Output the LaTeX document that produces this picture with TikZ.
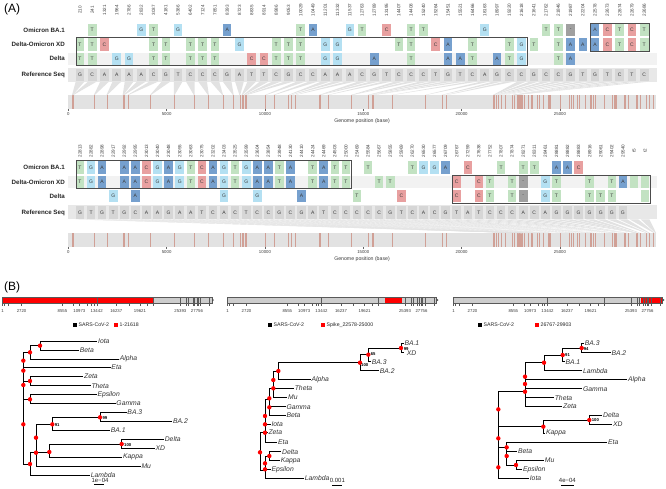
\documentclass[tikz,border=0pt]{standalone}
\usepackage{fontspec}
\setmainfont{Liberation Sans}
\setsansfont{Liberation Sans}
\definecolor{colT}{RGB}{194,226,194}
\definecolor{colG}{RGB}{180,224,242}
\definecolor{colA}{RGB}{118,160,206}
\definecolor{colC}{RGB}{232,160,160}
\definecolor{colD}{RGB}{160,160,160}
\definecolor{colE}{RGB}{194,226,194}
\definecolor{refband}{RGB}{232,232,232}
\definecolor{refcell}{RGB}{214,214,214}
\definecolor{rowband}{RGB}{242,242,242}
\definecolor{fan}{RGB}{226,226,226}
\definecolor{gbar}{RGB}{226,226,226}
\definecolor{mut}{RGB}{208,160,150}
\definecolor{txt}{RGB}{60,60,60}
\definecolor{schemgray}{RGB}{205,205,205}
\def\txtT{T}\def\txtG{G}\def\txtA{A}\def\txtC{C}\def\txtD{-}\def\txtE{}
\def\toppos{210,241,1321,1964,2786,2832,3037,4181,5386,6402,7124,7851,8393,8723,8835,8914,8986,9053,10029,10449,11201,11332,11537,12763,12789,13195,14407,14408,15240,15264,15451,15521,16466,18163,18997,19220,21618,21641,21762,21846,21987,22204,22578,22673,22674,22679,22686}
\def\botpos{22813/22813,22882/22882,22898/22898,22917/22917,22992/22992,22995/22995,23013/23013,23040/23040,23048/23048,23055/23055,23063/23063,23075/23075,23202/23202,23403/23403,23525/23525,23599/23599,23604/23604,23854/23854,23948/23948,24130/24130,24410/24410,24424/24424,24469/24469,24503/24503,25000/25000,25469/25469,25584/25584,25667/25667,25855/25855,25969/25969,26270/26270,26530/26530,26577/26577,26709/26709,26767/26767,27259/27259,27638/27638,27752/27752,27807/27807,27874/27874,28271/28271,28311/28311,28461/28461,28881/28881,28882/28882,28883/28883,28916/28916,29061/29061,29402/29402,29540/29540,t5/29800,t2/29870}
\def\allmut{210,241,1321,1964,2786,2832,3037,4181,5386,6402,7124,7851,8393,8723,8835,8914,8986,9053,10029,10449,11201,11332,11537,12763,12789,13195,14407,14408,15240,15264,15451,15521,16466,18163,18997,19220,21618,21641,21762,21846,21987,22204,22578,22673,22674,22679,22686,22813,22882,22898,22917,22992,22995,23013,23040,23048,23055,23063,23075,23202,23403,23525,23599,23604,23854,23948,24130,24410,24424,24469,24503,25000,25469,25584,25667,25855,25969,26270,26530,26577,26709,26767,27259,27638,27752,27807,27874,28271,28311,28461,28881,28882,28883,28916,29061,29402,29540,29742}
\tikzset{
 ntcell/.style={fill=col#1, minimum width=8.6pt, minimum height=12.4pt, inner sep=0pt, font=\fontsize{5}{5}\selectfont, text=txt},
 refcellst/.style={fill=refcell, minimum width=8.6pt, minimum height=12.4pt, inner sep=0pt, font=\fontsize{5}{5}\selectfont, text=txt},
 poslab/.style={rotate=90, font=\fontsize{4.6}{5}\selectfont, text=black!75, inner sep=0pt},
 rowlab/.style={anchor=east, font=\bfseries\fontsize{6.2}{7}\selectfont, text=black!85, inner sep=0pt},
 boxline/.style={draw=black!70, line width=0.7pt},
 mutline/.style={draw=mut, line width=0.35pt},
 ticklab/.style={font=\fontsize{4.3}{5}\selectfont, text=txt, inner sep=0pt},
 axtitle/.style={font=\fontsize{5.2}{6}\selectfont, text=txt, inner sep=0pt},
 legtext/.style={font=\fontsize{5.2}{6}\selectfont, text=black!85, inner sep=0pt, anchor=west},
 tree/.style={line width=1pt, line cap=rect},
 tiplab/.style={anchor=west, font=\itshape\fontsize{6.8}{7}\selectfont, text=black!80, inner sep=1.3pt},
 supp/.style={font=\bfseries\fontsize{4.2}{5}\selectfont, inner sep=0pt, anchor=west},
 scalelab/.style={font=\fontsize{6}{7}\selectfont, text=black!85, inner sep=0pt},
 panellab/.style={anchor=west, font=\fontsize{12}{13}\selectfont, inner sep=0pt},
}
\newcommand\genomeschem[4]{%
  \fill[schemgray] (#1,297) rectangle ({#1+#2},303);
  \fill[red] ({#1+#2*#3/29.903},297) rectangle ({#1+#2*#4/29.903},303);
  \foreach \kk in {13.442,21.563,25.393,26.245,26.523,27.202,27.394,27.756,27.894,28.274,29.533}
    {\draw[black!65,line width=0.35pt] ({#1+#2*\kk/29.903},297) -- ({#1+#2*\kk/29.903},303);}
  \draw[black!65,line width=0.5pt] (#1,297) rectangle ({#1+#2},303);
  \fill[black!70] ({#1+#2},298.5) -- ({#1+#2+2},300) -- ({#1+#2},301.5) -- cycle;
  \foreach \kk in {0.001,0.266,0.806,2.720,8.555,10.055,10.973,12.092,12.686,13.025,13.442,16.237,18.040,19.621,20.659,21.563,25.393,26.245,26.523,27.202,27.394,27.756,27.894,28.274,29.533}
    {\draw[black!65,line width=0.3pt] ({#1+#2*\kk/29.903},303) -- ({#1+#2*\kk/29.903},305.5);}
  \foreach \kk/\lbl in {0.001/1,2.720/2720,8.555/8555,10.973/10973,13.442/13442,16.237/16237,19.621/19621,25.393/25393,27.756/27756}
    {\node[ticklab] at ({#1+#2*\kk/29.903},311) {\lbl};}
}
\newcommand\schemlegend[3]{%
  \fill[black] (#1,323) rectangle ++(4,4);
  \node[legtext] at ({#1+5.5},325) {SARS-CoV-2};
  \fill[red] (#2,323) rectangle ++(4,4);
  \node[legtext] at ({#2+5.5},325) {#3};
}
\begin{document}
\begin{tikzpicture}[x=1pt,y=-1pt]
\useasboundingbox (0,0) rectangle (666,488);
\fill[white] (0,0) rectangle (666,488);

\node[panellab] (labA) at (4,9) {(A)};
\node[panellab] (labB) at (4,287) {(B)};

%% ================= Panel A, top block =================
\fill[rowband] (68,52.5) rectangle (656.5,65);
\fill[refband] (68,67.7) rectangle (656.5,81.7);
\fill[gbar] (68.3,95) rectangle (656.3,109.3);
\foreach \mm in \allmut {
  \edef\gxi{\the\numexpr\mm*19665/100000\relax}
  \pgfmathsetmacro\gx{68.3+\gxi/10}
  \draw[mutline] (\gx,95) -- (\gx,109.3);
}
\foreach \pp [count=\ci] in \toppos {
  \pgfmathsetmacro\cx{80+(\ci-1)*12.265}
  \edef\gxi{\the\numexpr\pp*19665/100000\relax}
  \pgfmathsetmacro\gx{68.3+\gxi/10}
  \fill[fan] (\cx-4.3,81.7) -- (\cx+4.3,81.7) -- (\gx+0.4,95) -- (\gx-0.4,95) -- cycle;
  \node[poslab] at (\cx,10) {\pp};
}
\foreach \lt [count=\ci] in {G,C,A,A,A,A,C,G,T,C,C,C,G,A,T,T,C,G,C,C,A,A,A,C,G,T,C,C,C,T,G,T,C,A,G,C,C,G,C,C,G,T,G,T,C,T,C}
  \node[refcellst] at ({80+(\ci-1)*12.265},74.7) {\lt};
\foreach \ci/\lt in {2/T,6/G,7/T,9/G,13/A,19/T,20/A,23/G,24/T,26/C,28/T,29/T,34/G,39/T,40/T,41/D,43/A,44/C,45/T,46/C,47/T}
  \node[ntcell=\lt] at ({80+(\ci-1)*12.265},30) {\csname txt\lt\endcsname};
\foreach \ci/\lt in {1/T,2/T,3/C,7/T,8/T,10/T,11/T,12/T,14/G,17/T,18/T,19/T,21/G,22/G,27/T,28/T,30/C,31/A,33/T,36/T,37/G,38/T,40/T,41/A,42/A,43/A,44/C,45/T,46/C,47/T}
  \node[ntcell=\lt] at ({80+(\ci-1)*12.265},44.4) {\csname txt\lt\endcsname};
\foreach \ci/\lt in {1/T,2/T,4/G,5/G,7/T,8/T,10/T,11/T,12/T,15/C,16/C,17/T,18/T,19/T,21/G,22/G,25/A,28/T,31/A,32/A,33/T,35/A,36/T,37/G,40/T,41/A}
  \node[ntcell=\lt] at ({80+(\ci-1)*12.265},58.7) {\csname txt\lt\endcsname};
\draw[boxline] (76,37.4) rectangle (527.3,65.6);
\draw[boxline] (590.8,23.2) rectangle (649.2,51.2);
\node[rowlab] (r1t) at (65,30) {Omicron BA.1};
\node[rowlab] (r2t) at (65,44.4) {Delta-Omicron XD};
\node[rowlab] (r3t) at (65,58.7) {Delta};
\node[rowlab] (r4t) at (65,74.7) {Reference Seq};
\foreach \kk/\lbl in {0/0,1/5000,2/10000,3/15000,4/20000,5/25000} {
  \draw[black!60,line width=0.3pt] ({68.3+\kk*98.33},109.3) -- ({68.3+\kk*98.33},111);
  \node[ticklab] at ({68.3+\kk*98.33},114.5) {\lbl};
}
\node[axtitle] (axt) at (362,121) {Genome position (base)};

%% ================= Panel A, bottom block =================
\fill[rowband] (68,175.6) rectangle (656.5,188);
\fill[refband] (68,205.4) rectangle (656.5,219.4);
\fill[gbar] (68.3,233) rectangle (656.3,247.3);
\foreach \mm in \allmut {
  \edef\gxi{\the\numexpr\mm*19665/100000\relax}
  \pgfmathsetmacro\gx{68.3+\gxi/10}
  \draw[mutline] (\gx,233) -- (\gx,247.3);
}
\foreach \lbl/\pp [count=\ci] in \botpos {
  \pgfmathsetmacro\cx{80+(\ci-1)*11.08}
  \edef\gxi{\the\numexpr\pp*19665/100000\relax}
  \pgfmathsetmacro\gx{68.3+\gxi/10}
  \fill[fan] (\cx-4.3,219.4) -- (\cx+4.3,219.4) -- (\gx+0.4,233) -- (\gx-0.4,233) -- cycle;
  \node[poslab] at (\cx,151) {\lbl};
}
\foreach \lt [count=\ci] in {G,T,G,T,G,C,A,A,G,A,A,T,C,A,C,T,C,C,G,C,G,A,T,C,C,C,C,C,G,T,C,A,C,G,T,A,T,C,C,C,A,C,A,G,G,G,G,G,G,G}
  \node[refcellst] at ({80+(\ci-1)*11.08},212.4) {\lt};
\foreach \ci/\lt in {1/T,2/G,3/A,5/A,6/A,7/C,8/G,9/A,10/G,11/T,12/C,13/A,14/G,15/T,16/G,17/A,18/A,19/T,20/A,22/T,23/A,24/T,25/T,27/T,31/T,32/G,33/G,34/A,36/C,39/T,41/T,42/T,44/A,45/A,46/C}
  \node[ntcell=\lt] at ({80+(\ci-1)*11.08},167.5) {\csname txt\lt\endcsname};
\foreach \ci/\lt in {1/T,2/G,3/A,5/A,6/A,7/C,8/G,9/A,10/G,11/T,12/C,13/A,14/G,15/T,16/G,17/A,18/A,19/T,20/A,22/T,23/A,24/T,25/T,28/T,29/T,35/C,37/C,38/T,40/T,41/D,43/G,44/T,47/T,49/T,50/A,51/E,52/E}
  \node[ntcell=\lt] at ({80+(\ci-1)*11.08},181.8) {\csname txt\lt\endcsname};
\foreach \ci/\lt in {4/G,6/A,14/G,17/G,21/A,26/T,30/C,35/C,37/C,38/T,40/T,41/D,43/G,44/T,47/T,48/T,49/T,52/E}
  \node[ntcell=\lt] at ({80+(\ci-1)*11.08},196.1) {\csname txt\lt\endcsname};
\draw[boxline] (76,160.6) rectangle (351,188.7);
\draw[boxline] (452.3,174.9) rectangle (650,203.1);
\node[rowlab] (r1b) at (65,167.5) {Omicron BA.1};
\node[rowlab] (r2b) at (65,181.8) {Delta-Omicron XD};
\node[rowlab] (r3b) at (65,196.1) {Delta};
\node[rowlab] (r4b) at (65,212.4) {Reference Seq};
\foreach \kk/\lbl in {0/0,1/5000,2/10000,3/15000,4/20000,5/25000} {
  \draw[black!60,line width=0.3pt] ({68.3+\kk*98.33},247.3) -- ({68.3+\kk*98.33},249);
  \node[ticklab] at ({68.3+\kk*98.33},252.5) {\lbl};
}
\node[axtitle] (axb) at (362,259) {Genome position (base)};

%% ================= Panel B: genome schematics =================
\genomeschem{2.5}{209.5}{0.001}{21.618}
\genomeschem{227.5}{209}{22.578}{25.000}
\genomeschem{453.5}{209}{26.767}{29.903}
\schemlegend{73}{114}{1-21618}
\schemlegend{268}{321}{Spike\_22578-25000}
\schemlegend{478}{535}{26767-29903}

%% ================= Tree 1 =================
\begin{scope}[yshift=-330pt, x=0.33333pt, y=-0.33333pt]
\draw[tree] (120,33)--(120,60) (120,33)--(290,33) (120,60)--(235,60)
  (90,47)--(120,47) (90,47)--(90,87) (90,87)--(355,87)
  (70,67)--(90,67) (70,67)--(70,402) (70,113)--(330,113)
  (90,140)--(90,167) (90,140)--(248,140) (90,167)--(270,167) (70,153)--(90,153)
  (90,193)--(90,220) (90,193)--(288,193) (90,220)--(345,220) (70,208)--(90,208)
  (70,402)--(90,402) (90,368)--(90,436) (90,436)--(268,436) (90,368)--(108,368)
  (108,283)--(108,408) (108,408)--(420,408)
  (108,283)--(157,283) (157,262)--(157,300) (157,300)--(328,300)
  (157,262)--(300,262) (300,247)--(300,274) (300,247)--(378,247) (300,274)--(515,274)
  (108,366)--(148,366) (148,342)--(148,381) (148,381)--(365,381)
  (148,342)--(365,342) (365,328)--(365,354) (365,328)--(490,328) (365,354)--(462,354);
\foreach \xx/\yy in {120/47,90/67,70/92,70/122,90/153,70/165,90/208,70/283,300/262,157/283,108/323,365/342,148/366,108/368,90/402}
  \fill[red] (\xx,\yy) circle[radius=2.2pt];
\foreach \xx/\yy/\nm in {290/33/Iota,235/60/Beta,355/87/Alpha,330/113/Eta,248/140/Zeta,270/167/Theta,288/193/Epsilon,345/220/Gamma,378/247/BA.3,515/274/BA.2,328/300/BA.1,490/328/Delta,462/354/XD,365/381/Kappa,420/408/Mu,268/436/Lambda}
  \node[tiplab] at (\xx,\yy) {\nm};
\node[supp] at (307,264) {99};
\node[supp] at (164,284) {91};
\node[supp] at (372,344) {100};
\node[scalelab] (sc1) at (300,451) {1e−04};
\draw[line width=0.8pt] (283,464) -- (313,464);
\end{scope}

%% ================= Tree 2 =================
\begin{scope}[xshift=220pt, yshift=-330pt, x=0.33333pt, y=-0.33333pt]
\draw[tree] (543,40)--(543,68) (543,40)--(549,40) (543,68)--(549,68)
  (445,54)--(543,54) (445,54)--(445,95) (445,95)--(451,95)
  (420,74)--(445,74) (420,74)--(420,122) (420,122)--(475,122)
  (175,98)--(420,98) (175,98)--(175,148) (175,148)--(270,148)
  (160,123)--(175,123) (160,123)--(160,202) (148,175)--(220,175) (160,202)--(200,202)
  (148,175)--(148,256) (148,230)--(195,230) (148,256)--(195,256)
  (135,209)--(148,209) (135,209)--(135,336) (135,283)--(150,283) (135,308)--(141,308) (135,336)--(170,336)
  (120,306)--(135,306) (120,306)--(120,421) (120,421)--(135,421)
  (135,378)--(135,445) (135,378)--(148,378) (148,365)--(148,392) (148,365)--(182,365) (148,392)--(178,392)
  (135,418)--(150,418) (135,445)--(250,445);
\foreach \xx/\yy in {543/54,445/74,420/98,175/123,160/150,160/175,148/205,148/232,135/258,135/283,135/308,120/367,148/378,135/400,135/418}
  \fill[red] (\xx,\yy) circle[radius=2.2pt];
\foreach \xx/\yy/\nm in {549/40/BA.1,451/95/BA.3,475/122/BA.2,270/148/Alpha,220/175/Theta,200/202/Mu,195/230/Gamma,195/256/Beta,150/283/Iota,141/308/Zeta,170/336/Eta,182/365/Delta,178/392/Kappa,150/418/Epsilon,250/445/Lambda}
  \node[tiplab] at (\xx,\yy) {\nm};
\node[tiplab] at (556,68) {XD};
\node[supp] at (551,57) {99};
\node[supp] at (452,73) {65};
\node[supp] at (423,106) {100};
\node[scalelab] (sc2) at (352,452) {0.001};
\draw[line width=0.8pt] (337,465) -- (367,465);
\end{scope}

%% ================= Tree 3 =================
\begin{scope}[xshift=440pt, yshift=-330pt, x=0.33333pt, y=-0.33333pt]
\draw[tree] (425,40)--(425,68) (425,40)--(430,40) (425,68)--(510,68)
  (368,54)--(425,54) (368,54)--(368,95) (368,95)--(372,95)
  (312,75)--(368,75) (312,75)--(312,122) (312,122)--(425,122)
  (255,98)--(312,98) (255,98)--(255,230) (255,149)--(560,149) (255,176)--(425,176) (255,203)--(340,203) (255,230)--(365,230)
  (175,185)--(255,185) (175,185)--(175,445) (175,290)--(310,290)
  (310,270)--(310,310) (310,270)--(448,270) (448,256)--(448,283) (448,256)--(485,256) (448,283)--(515,283) (310,310)--(314,310)
  (175,352)--(200,352) (200,337)--(200,405) (200,337)--(500,337) (200,364)--(230,364) (200,405)--(228,405)
  (228,391)--(228,418) (228,391)--(310,391) (228,418)--(245,418)
  (175,445)--(265,445);
\foreach \xx/\yy in {425/54,368/75,312/98,255/140,255/162,255/185,448/270,310/290,175/238,175/325,200/352,200/378,228/405,175/412}
  \fill[red] (\xx,\yy) circle[radius=2.2pt];
\foreach \xx/\yy/\nm in {430/40/BA.3,510/68/BA.2,372/95/BA.1,425/122/Lambda,560/149/Alpha,425/176/Gamma,340/203/Theta,365/230/Zeta,485/256/Delta,515/283/XD,314/310/Kappa,500/337/Eta,230/364/Beta,310/391/Mu,245/418/Epsilon,265/445/Iota}
  \node[tiplab] at (\xx,\yy) {\nm};
\node[supp] at (431,58) {94};
\node[supp] at (375,76) {91};
\node[supp] at (455,271) {100};
\node[scalelab] (sc3) at (382,452) {4e−04};
\draw[line width=0.8pt] (363,465) -- (401,465);
\end{scope}
\end{tikzpicture}
\end{document}
